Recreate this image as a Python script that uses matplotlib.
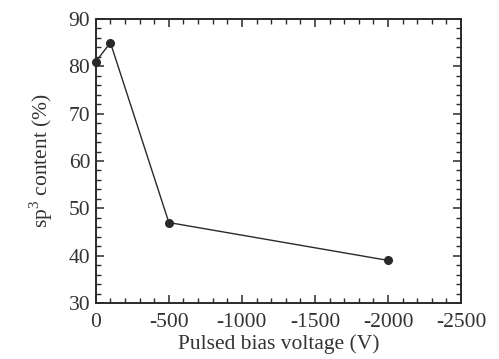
import matplotlib
matplotlib.use("Agg")
import matplotlib.pyplot as plt
from matplotlib.ticker import MultipleLocator

# pulsed bias voltage (V) and sp3 content (%)
bias = [0, -100, -500, -2000]
sp3 = [81, 85, 47, 39]

plt.rcParams['font.family'] = ['Liberation Serif', 'DejaVu Serif']
plt.rcParams['mathtext.fontset'] = 'custom'
plt.rcParams['mathtext.rm'] = 'Liberation Serif'
plt.rcParams['axes.unicode_minus'] = False

ink = '#2a2a2a'

fig = plt.figure(figsize=(4.99, 3.59), dpi=100)
ax = fig.add_axes([0.192, 0.156, 0.732, 0.791])

ax.plot(bias, sp3, color=ink, lw=1.0, marker='o', ms=5.5,
        mfc=ink, mec=ink, clip_on=False, zorder=3)

ax.set_xlim(0, -2500)
ax.set_ylim(30, 90)
ax.xaxis.set_major_locator(MultipleLocator(500))
ax.xaxis.set_minor_locator(MultipleLocator(100))
ax.yaxis.set_major_locator(MultipleLocator(10))
ax.yaxis.set_minor_locator(MultipleLocator(2))

ax.tick_params(which='both', direction='in', top=True, right=True,
               colors=ink, labelcolor='#333333', labelsize=15.5)
ax.tick_params(which='major', length=6, width=1.1)
ax.tick_params(which='minor', length=3.5, width=1.0)
ax.tick_params(axis='x', pad=7)
ax.tick_params(axis='y', pad=4)
for s in ax.spines.values():
    s.set_linewidth(1.4)
    s.set_color(ink)

ax.set_xlabel('Pulsed bias voltage (V)', fontsize=15.5, color='#333333', labelpad=2)
ax.set_ylabel('sp$^3$ content (%)', fontsize=15.5, color='#333333', labelpad=10)

fig.savefig('out.png', dpi=100)
